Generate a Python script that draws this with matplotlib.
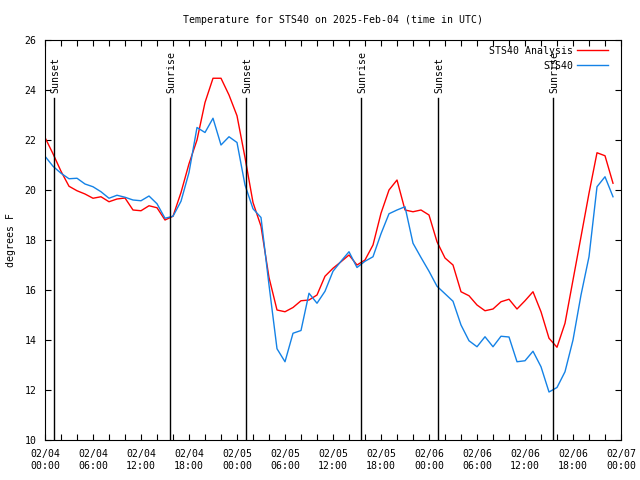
import numpy as np
import matplotlib
matplotlib.use("Agg")
import matplotlib.pyplot as plt
import matplotlib.dates as mdates
from datetime import datetime, timedelta

# ---- data ----
start = datetime(2025, 2, 4, 0, 0)
hours = list(range(72))

analysis = [22.1, 21.45, 20.75, 20.15, 19.97, 19.84, 19.67, 19.73, 19.53, 19.64,
            19.68, 19.2, 19.17, 19.37, 19.29, 18.8, 18.95, 19.9, 21.05, 22.0,
            23.5, 24.47, 24.47, 23.8, 22.97, 21.3, 19.5, 18.55, 16.5, 15.2,
            15.13, 15.3, 15.57, 15.6, 15.8, 16.55, 16.87, 17.13, 17.4, 17.0,
            17.2, 17.8, 19.07, 20.0, 20.4, 19.2, 19.13, 19.2, 19.0, 17.93,
            17.28, 17.0, 15.93, 15.77, 15.4, 15.17, 15.24, 15.53, 15.63, 15.24,
            15.57, 15.93, 15.13, 14.07, 13.71, 14.67, 16.4, 18.13, 19.87, 21.49,
            21.37, 20.27]

observed = [21.35, 20.95, 20.67, 20.45, 20.47, 20.24, 20.13, 19.93, 19.67, 19.79,
            19.71, 19.6, 19.57, 19.76, 19.45, 18.87, 18.95, 19.55, 20.7, 22.5,
            22.3, 22.87, 21.8, 22.13, 21.9, 20.2, 19.25, 18.9, 16.2, 13.65,
            13.13, 14.27, 14.38, 15.87, 15.47, 15.95, 16.75, 17.15, 17.53, 16.9,
            17.15, 17.33, 18.25, 19.05, 19.2, 19.33, 17.87, 17.3, 16.75, 16.15,
            15.85, 15.55, 14.6, 13.97, 13.73, 14.13, 13.73, 14.15, 14.12, 13.13,
            13.17, 13.55, 12.93, 11.92, 12.1, 12.73, 14.0, 15.8, 17.33, 20.13,
            20.53, 19.73]

sun_labels = ["Sunset", "Sunrise", "Sunset", "Sunrise", "Sunset", "Sunrise"]
sun_hours = [1.125, 15.625, 25.125, 39.5, 49.125, 63.5]

series_names = ["STS40 Analysis", "STS40"]
series_colors = ["#ff0000", "#1482e6"]

title = "Temperature for STS40 on 2025-Feb-04 (time in UTC)"
ylabel = "degrees F"

# ---- plot ----
FS = 7.1
plt.rcParams['font.family'] = ['DejaVu Sans Mono']
plt.rcParams['font.size'] = FS

fig = plt.figure(figsize=(6.4, 4.8), dpi=100)
ax = fig.add_axes([45 / 640, 40 / 480, 576 / 640, 400 / 480])

times = [start + timedelta(hours=h) for h in hours]
ax.plot(times, analysis, color=series_colors[0], lw=1.0, label=series_names[0])
ax.plot(times, observed, color=series_colors[1], lw=1.0, label=series_names[1])

ymin, ymax = 10, 26
line_top = 23.68
for lab, h in zip(sun_labels, sun_hours):
    t = start + timedelta(hours=h)
    ax.plot([t, t], [ymin, line_top], color='black', lw=1.0)
    ax.annotate(lab, xy=(mdates.date2num(t), 23.88), xytext=(1.5, 0),
                textcoords='offset pixels', rotation=90, ha='center', va='bottom',
                fontsize=FS)

ax.set_xlim(start, start + timedelta(hours=72))
ax.set_ylim(ymin, ymax)
ax.set_yticks(np.arange(10, 27, 2))

ax.xaxis.set_major_locator(mdates.HourLocator(byhour=range(0, 24, 6)))
ax.xaxis.set_minor_locator(mdates.HourLocator(interval=2))
ax.xaxis.set_major_formatter(mdates.DateFormatter('%m/%d\n%H:%M'))

ax.tick_params(which='both', direction='in', top=True, right=True, length=4, width=0.8)
ax.tick_params(axis='x', which='major', pad=6.5)
ax.tick_params(axis='y', which='major', pad=6)
for s in ax.spines.values():
    s.set_linewidth(0.8)

ax.set_title(title, fontsize=FS, pad=12)
ax.set_ylabel(ylabel, fontsize=FS, labelpad=6)

leg = ax.legend(loc='upper right', bbox_to_anchor=(1.0 - 6 / 576, 1.0 + 1 / 400), frameon=False,
                markerfirst=False, handlelength=3.2, handletextpad=0.35,
                labelspacing=0.5, borderpad=0.4, borderaxespad=0.3, fontsize=FS)

fig.savefig('out.png', dpi=100)
